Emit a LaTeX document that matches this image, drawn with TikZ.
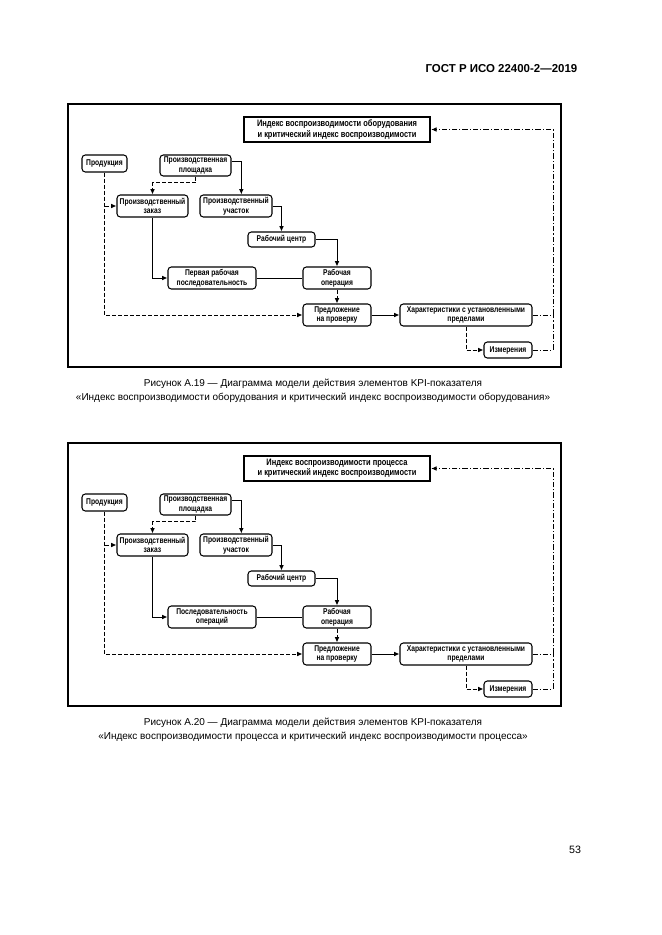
\documentclass[tikz,border=0pt]{standalone}
\usepackage{fontspec}
\setmainfont{Liberation Sans}
\newfontfamily\boxfont{Liberation Sans}[UprightFont={* Bold}, FakeStretch=0.8]
\usetikzlibrary{arrows.meta}

\tikzset{
  blk/.style={draw, rounded corners=2.5pt, line width=0.8pt, inner sep=1pt, align=center,
    font=\boxfont\fontsize{6.3}{7.2}\selectfont},
  sz/.style 2 args={minimum width=#1*0.75pt, minimum height=#2*0.75pt},
  ttlbox/.style={draw, line width=1.8pt, inner sep=1pt, align=center,
    font=\boxfont\fontsize{7}{7.8}\selectfont},
  wire/.style={line width=0.7pt},
  link/.style={wire, -{Latex[length=4pt,width=3.5pt]}},
  dashwire/.style={wire, dash pattern=on 3pt off 1.5pt},
  dotwire/.style={wire, dash pattern=on 4pt off 1.5pt on 0.8pt off 1.5pt},
}

\begin{document}
\begin{tikzpicture}[x=0.75pt, y=-0.75pt]
  \useasboundingbox (0,0) rectangle (661,935);

  \node[anchor=east, font=\bfseries\fontsize{8.6}{10}\selectfont] (gost) at (582,69) {ГОСТ Р ИСО 22400-2—2019};
  \node[font=\fontsize{8}{10}\selectfont] (page) at (575,850) {53};

  \foreach \dy/\num/\obj/\seqtxt in {0/19/оборудования/{Первая рабочая\\последовательность},
                                     339/20/процесса/{Последовательность\\операций}}{
    \begin{scope}[shift={(0,\dy)}]
      % frame
      \draw[line width=0.8pt] (68,104) rectangle (561,367);

      \node[ttlbox, sz={186}{25}] (ttl) at (337,129.5) {Индекс воспроизводимости \obj\\и критический индекс воспроизводимости};
      \node[blk, sz={45}{17}]  (prod)  at (104.5,163.5) {Продукция};
      \node[blk, sz={71}{21}]  (site)  at (195.5,165.5) {Производственная\\площадка};
      \node[blk, sz={71}{22}]  (order) at (152.5,206)   {Производственный\\заказ};
      \node[blk, sz={72}{22}]  (area)  at (236,206)     {Производственный\\участок};
      \node[blk, sz={67}{15}]  (wc)    at (281.5,239.5) {Рабочий центр};
      \node[blk, sz={88}{22}]  (seq)   at (212,278)     {\seqtxt};
      \node[blk, sz={68}{22}]  (op)    at (337,278)     {Рабочая\\операция};
      \node[blk, sz={68}{22}]  (sub)   at (337,315)     {Предложение\\на проверку};
      \node[blk, sz={132}{22}] (chr)   at (466,315)     {Характеристики с установленными\\пределами};
      \node[blk, sz={48}{16}]  (meas)  at (508,350)     {Измерения};
      \coordinate (rail) at (553,315);

      \draw[link] ([yshift=3pt]site.east) -| ([xshift=4pt]area.north);
      \draw[dashwire, -{Latex[length=4pt,width=3.5pt]}] (site.south) -- ++(0,6) -| (order.north);
      \draw[dashwire, -{Latex[length=4pt,width=3.5pt]}] (prod.south) |- (sub.west);
      \draw[dashwire, -{Latex[length=4pt,width=3.5pt]}] (prod.south |- order.west) -- (order.west);
      \draw[link] (area.east) -| (wc.north);
      \draw[link] (wc.east) -| (op.north);
      \draw[link] (order.south) |- (seq.west);
      \draw[wire] (seq.east) -- (op.west);
      \draw[dashwire, -{Latex[length=4pt,width=3.5pt]}] (op.south) -- (sub.north);
      \draw[link] (sub.east) -- (chr.west);
      \draw[dotwire, -{Latex[length=4pt,width=3.5pt]}] (chr.east) -- (rail) |- (ttl.east);
      \draw[dotwire] (meas.east) -| (rail);
      \draw[dashwire, -{Latex[length=4pt,width=3.5pt]}] (chr.south) |- (meas.west);

      \node[align=center, font=\fontsize{7.5}{10.5}\selectfont] (cap) at (313,391)
        {Рисунок А.\num\ — Диаграмма модели действия элементов KPI-показателя\\
         «Индекс воспроизводимости \obj\ и критический индекс воспроизводимости \obj»};
    \end{scope}
  }
\end{tikzpicture}
\end{document}
